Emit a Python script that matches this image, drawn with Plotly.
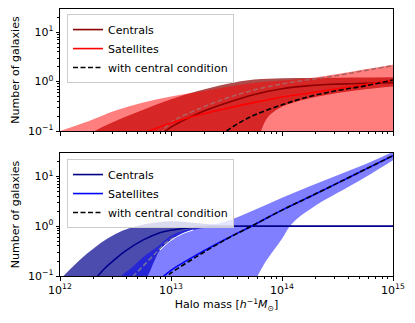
import plotly.graph_objects as go
from plotly.subplots import make_subplots

# log10 halo mass [h^-1 Msun] grids and values
# ---- top panel (red) ----
cen_band_lo_top_lm = [13.70, 13.81, 13.85, 13.9, 14.0, 14.25, 14.5, 14.75, 15.0]
cen_band_lo_top = [0.03, 0.1, 0.16, 0.22, 0.31, 0.46, 0.59, 0.7, 0.8]
cen_band_hi_top_lm = [12.0, 12.25, 12.5, 12.75, 13.0, 13.25, 13.5, 13.75, 14.0, 14.25, 14.5, 14.75, 15.0]
cen_band_hi_top = [0.04, 0.085, 0.16, 0.27, 0.44, 0.65, 0.9, 1.1, 1.17, 1.19, 1.2, 1.21, 1.22]
sat_band_lo_top_lm = [12.0, 15.0]
sat_band_lo_top = [0.01, 0.01]
sat_band_hi_top_lm = [12.0, 12.25, 12.5, 12.75, 13.0, 13.25, 13.5, 13.75, 14.0, 14.25, 14.5, 14.75, 15.0]
sat_band_hi_top = [0.1, 0.155, 0.26, 0.38, 0.5, 0.62, 0.78, 0.95, 1.05, 1.17, 1.42, 1.78, 2.2]
cond_hi_top_lm = [12.9, 13.0, 13.25, 13.5, 13.75, 14.0, 14.25, 14.5, 14.75, 15.0]
cond_hi_top = [0.085, 0.15, 0.28, 0.46, 0.68, 0.9, 1.1, 1.33, 1.68, 2.1]
cen_top_lm = [12.9, 13.0, 13.25, 13.5, 13.75, 14.0, 14.25, 14.5, 14.75, 15.0]
cen_top = [0.08, 0.12, 0.23, 0.37, 0.55, 0.72, 0.83, 0.89, 0.93, 0.95]
sat_top_lm = [12.75, 13.0, 13.25, 13.5, 13.75, 14.0, 14.25, 14.5, 14.75, 15.0]
sat_top = [0.09, 0.145, 0.21, 0.285, 0.38, 0.49, 0.59, 0.72, 0.87, 1.06]
cond_top_lm = [13.45, 13.5, 13.6, 13.75, 14.0, 14.25, 14.5, 14.75, 15.0]
cond_top = [0.08, 0.1, 0.14, 0.21, 0.34, 0.5, 0.66, 0.82, 1.08]

# ---- bottom panel (blue) ----
cen_band_lo_bot_lm = [12.7, 12.79, 12.85, 12.9, 13.0, 13.1, 13.2, 13.35, 13.5, 14.0, 15.0]
cen_band_lo_bot = [0.05, 0.1, 0.2, 0.33, 0.52, 0.7, 0.84, 0.95, 0.99, 1.0, 1.0]
cen_band_hi_bot_lm = [12.0, 12.25, 12.5, 12.75, 13.0, 13.25, 13.5, 13.75, 14.0, 14.25, 14.5, 14.75, 15.0]
cen_band_hi_bot = [0.085, 0.29, 0.7, 1.08, 1.26, 1.14, 1.03, 1.01, 1.0, 1.0, 1.0, 1.0, 1.0]
sat_band_lo_bot_lm = [13.7, 13.78, 13.85, 13.93, 14.0, 14.07, 14.15, 14.28, 14.4, 14.6, 14.8, 15.0]
sat_band_lo_bot = [0.05, 0.1, 0.19, 0.34, 0.56, 1.0, 1.5, 2.4, 3.5, 6.2, 11.2, 21.0]
sat_band_hi_bot_lm = [12.45, 12.55, 12.65, 12.75, 12.88, 13.0, 13.1, 13.25, 13.5, 13.75, 14.0, 14.25, 14.5, 14.75, 15.0]
sat_band_hi_bot = [0.06, 0.1, 0.15, 0.24, 0.39, 0.64, 0.8, 0.93, 1.25, 2.1, 3.7, 6.3, 10.5, 17.5, 31.0]
cond_hi_bot_lm = [12.6, 12.66, 12.75, 12.87, 12.97, 13.05]
cond_hi_bot = [0.08, 0.1, 0.16, 0.3, 0.5, 0.62]
cen_bot_lm = [12.25, 12.34, 12.4, 12.5, 12.6, 12.75, 12.9, 13.0, 13.25, 13.5, 14.0, 15.0]
cen_bot = [0.06, 0.1, 0.14, 0.22, 0.33, 0.53, 0.74, 0.83, 0.96, 0.995, 1.0, 1.0]
sat_bot_lm = [12.9, 13.0, 13.25, 13.5, 13.75, 14.0, 14.25, 14.5, 14.75, 15.0]
sat_bot = [0.085, 0.13, 0.28, 0.56, 1.07, 2.1, 3.9, 7.3, 13.8, 26.0]
cond_bot_lm = [12.93, 12.97, 13.0, 13.25, 13.5, 13.75, 14.0, 14.25, 14.5, 14.75, 15.0]
cond_bot = [0.085, 0.1, 0.115, 0.26, 0.55, 1.07, 2.1, 3.9, 7.3, 13.8, 26.0]

labels = ["Centrals", "Satellites", "with central condition"]


def m(lm):
    return [10 ** v for v in lm]


fig = make_subplots(rows=2, cols=1, shared_xaxes=True)


def add_panel(row, legend, c_dark, c_light, fill_dark, fill_light, gray,
              clo_lm, clo, chi_lm, chi, slo_lm, slo, shi_lm, shi, gh_lm, gh,
              cen_lm, cen, sat_lm, sat, cond_lm, cond, seam=None):
    sp = "spline"
    # centrals band
    fig.add_trace(go.Scatter(x=m(clo_lm), y=clo, mode="lines", line=dict(width=0, shape=sp),
                             showlegend=False, hoverinfo="skip"), row=row, col=1)
    fig.add_trace(go.Scatter(x=m(chi_lm), y=chi, mode="lines", line=dict(width=0, shape=sp),
                             fill="tonexty", fillcolor=fill_dark, showlegend=False,
                             hoverinfo="skip"), row=row, col=1)
    # satellites band
    fig.add_trace(go.Scatter(x=m(slo_lm), y=slo, mode="lines", line=dict(width=0, shape=sp),
                             showlegend=False, hoverinfo="skip"), row=row, col=1)
    fig.add_trace(go.Scatter(x=m(shi_lm), y=shi, mode="lines", line=dict(width=0, shape=sp),
                             fill="tonexty", fillcolor=fill_light, showlegend=False,
                             hoverinfo="skip"), row=row, col=1)
    # dashed line seen through the bands
    fig.add_trace(go.Scatter(x=m(gh_lm), y=gh, mode="lines",
                             line=dict(color=gray, width=1.6, dash="5px,2.5px", shape=sp),
                             showlegend=False), row=row, col=1)
    if seam is not None:
        fig.add_trace(go.Scatter(x=m(seam[0]), y=seam[1], mode="lines",
                                 line=dict(color="white", width=1, shape=sp),
                                 showlegend=False), row=row, col=1)
    fig.add_trace(go.Scatter(x=m(cen_lm), y=cen, mode="lines", name=labels[0], legend=legend,
                             line=dict(color=c_dark, width=1.6, shape=sp)), row=row, col=1)
    fig.add_trace(go.Scatter(x=m(sat_lm), y=sat, mode="lines", name=labels[1], legend=legend,
                             line=dict(color=c_light, width=1.6, shape=sp)), row=row, col=1)
    fig.add_trace(go.Scatter(x=m(cond_lm), y=cond, mode="lines", name=labels[2], legend=legend,
                             line=dict(color="black", width=1.6, dash="5px,2.5px", shape=sp)),
                  row=row, col=1)


add_panel(1, "legend", "#8b0000", "#ff0000", "rgba(139,0,0,0.7)", "rgba(255,0,0,0.5)",
          "rgb(175,95,95)",
          cen_band_lo_top_lm, cen_band_lo_top, cen_band_hi_top_lm, cen_band_hi_top,
          sat_band_lo_top_lm, sat_band_lo_top, sat_band_hi_top_lm, sat_band_hi_top,
          cond_hi_top_lm, cond_hi_top, cen_top_lm, cen_top, sat_top_lm, sat_top,
          cond_top_lm, cond_top)

add_panel(2, "legend2", "#00008b", "#0000ff", "rgba(0,0,139,0.7)", "rgba(0,0,255,0.5)",
          "rgb(110,110,160)",
          cen_band_lo_bot_lm, cen_band_lo_bot, cen_band_hi_bot_lm, cen_band_hi_bot,
          sat_band_lo_bot_lm, sat_band_lo_bot, sat_band_hi_bot_lm, sat_band_hi_bot,
          cond_hi_bot_lm, cond_hi_bot, cen_bot_lm, cen_bot, sat_bot_lm, sat_bot,
          cond_bot_lm, cond_bot,
          seam=(cen_band_lo_bot_lm[3:7], cen_band_lo_bot[3:7]))

x_major = [1e12, 1e13, 1e14, 1e15]
x_minor = [k * 10 ** e for e in range(12, 15) for k in range(2, 10)]
y_major = [0.1, 1, 10]
y_minor = [k * 10 ** e for e in (-1, 0, 1) for k in range(2, 10) if k * 10 ** e <= 30]

axis_common = dict(showline=True, linecolor="black", linewidth=1, mirror=True,
                   ticks="outside", ticklen=3.5, tickcolor="black", showgrid=False,
                   zeroline=False, tickfont=dict(size=11, color="black"))

for r in (1, 2):
    fig.update_xaxes(type="log", range=[12, 15], tickvals=x_major,
                     ticktext=["10<sup>12</sup>", "10<sup>13</sup>", "10<sup>14</sup>", "10<sup>15</sup>"],
                     showticklabels=(r == 2),
                     minor=dict(tickvals=x_minor, ticks="outside", ticklen=2, tickcolor="black"),
                     row=r, col=1, **axis_common)
    fig.update_yaxes(type="log", range=[-1, 1.47], tickvals=y_major,
                     ticktext=["10<sup>\u22121</sup>", "10<sup>0</sup>", "10<sup>1</sup>"],
                     minor=dict(tickvals=y_minor, ticks="outside", ticklen=2, tickcolor="black"),
                     title=dict(text="Number of galaxies", font=dict(size=11, color="black"),
                                standoff=6),
                     row=r, col=1, **axis_common)

fig.update_xaxes(title=dict(text="Halo mass [<i>h</i><sup>\u22121</sup><i>M</i><sub>\u2299</sub>]",
                            font=dict(size=11, color="black"), standoff=4), row=2, col=1)

legend_style = dict(xanchor="left", yanchor="top", bgcolor="rgba(255,255,255,0.8)",
                    bordercolor="#cccccc", borderwidth=1, font=dict(size=11, color="black"),
                    tracegroupgap=0, traceorder="normal")

# the page body adds an 8px offset, so the figure is 8px smaller than the window
fig.update_layout(
    width=407, height=315,
    margin=dict(l=52, r=22, t=1, b=47),
    paper_bgcolor="white", plot_bgcolor="white",
    font=dict(family="DejaVu Sans", size=11, color="black"),
    yaxis=dict(domain=[0.543, 1.0]),
    yaxis2=dict(domain=[0.0, 0.461]),
    legend=dict(x=0.021, y=0.981, **legend_style),
    legend2=dict(x=0.021, y=0.438, **legend_style),
)

fig.write_html("out.html")
